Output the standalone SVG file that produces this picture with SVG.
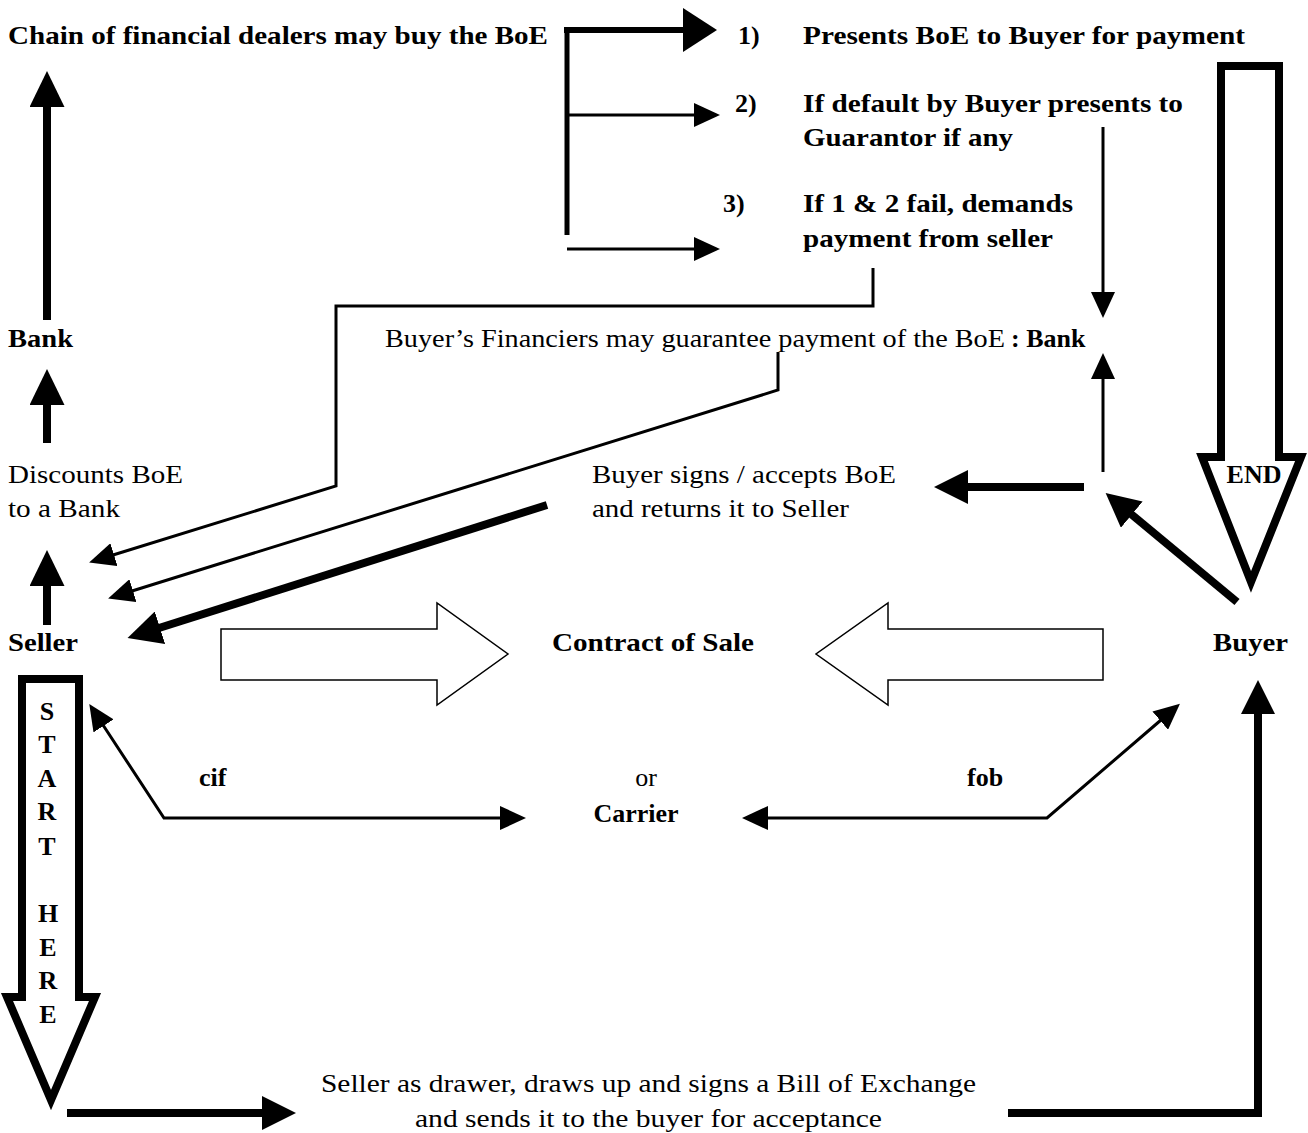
<svg xmlns="http://www.w3.org/2000/svg" width="1308" height="1133" viewBox="0 0 1308 1133">
<style>
text{font-family:"Liberation Serif","Times New Roman",serif;fill:#000;font-size:26px}
.b{font-weight:bold}
.bot{font-size:25px}
.c{fill:none;stroke:#000;stroke-linejoin:miter}
.t3{stroke-width:3}
.t5{stroke-width:5}
.t6{stroke-width:6}
.t8{stroke-width:8}
.blk{fill:#fff;stroke:#000;stroke-width:1.5}
.big{fill:#fff;stroke:#000;stroke-width:8}
</style>
<defs>
<marker id="hXL" viewBox="0 0 34 44" refX="1" refY="22" markerWidth="34" markerHeight="44" markerUnits="userSpaceOnUse" orient="auto"><path d="M0,0 L34,22 L0,44 z"/></marker>
<marker id="hL" viewBox="0 0 34 34" refX="1" refY="17" markerWidth="34" markerHeight="34" markerUnits="userSpaceOnUse" orient="auto"><path d="M0,0 L34,17 L0,34 z"/></marker>
<marker id="hV" viewBox="0 0 36 35" refX="1" refY="17.5" markerWidth="36" markerHeight="35" markerUnits="userSpaceOnUse" orient="auto"><path d="M0,0 L36,17.5 L0,35 z"/></marker>
<marker id="hS" viewBox="0 0 26 24" refX="1" refY="12" markerWidth="26" markerHeight="24" markerUnits="userSpaceOnUse" orient="auto"><path d="M0,0 L26,12 L0,24 z"/></marker>
<marker id="hS2" viewBox="0 0 26 24" refX="1" refY="12" markerWidth="26" markerHeight="24" markerUnits="userSpaceOnUse" orient="auto-start-reverse"><path d="M0,0 L26,12 L0,24 z"/></marker>
</defs>

<g id="block-arrows">
<polygon id="start-arrow" class="big" points="22,679 79,679 79,997 95,997 51,1100 7,997 22,997"/>
<polygon id="end-arrow" class="big" points="1221,66 1279,66 1279,457 1301,457 1251,582 1202,457 1221,457"/>
<polygon id="contract-left" class="blk" points="221,629 437,629 437,603 508,654 437,705 437,680 221,680"/>
<polygon id="contract-right" class="blk" points="1103,629 888,629 888,603 816,654 888,705 888,680 1103,680"/>
</g>

<g id="connectors">
<path class="c t6" d="M564,30 L684,30" marker-end="url(#hXL)"/>
<path class="c t5" d="M567,28 L567,235"/>
<path class="c t3" d="M567,115 L695,115" marker-end="url(#hS)"/>
<path class="c t3" d="M567,249 L695,249" marker-end="url(#hS)"/>
<path class="c t3" d="M1103,127 L1103,293" marker-end="url(#hS)"/>
<path class="c t3" d="M1103,472 L1103,378" marker-end="url(#hS)"/>
<path class="c t3" d="M873,268 L873,306 L336,306 L336,486 L113,555" marker-end="url(#hS)"/>
<path class="c t3" d="M778,352 L778,390 L132,591" marker-end="url(#hS)"/>
<path class="c t8" d="M547,505 L159,628" marker-end="url(#hL)"/>
<path class="c t8" d="M1084,487 L967,487" marker-end="url(#hL)"/>
<path class="c t8" d="M1237,602 L1131,514" marker-end="url(#hL)"/>
<path class="c t3" d="M501,818 L164,818 L103,725" marker-start="url(#hS2)" marker-end="url(#hS2)"/>
<path class="c t3" d="M767,818 L1047,818 L1161,720" marker-start="url(#hS2)" marker-end="url(#hS2)"/>
<path class="c t8" d="M47,320 L47,106" marker-end="url(#hV)"/>
<path class="c t8" d="M47,443 L47,404" marker-end="url(#hV)"/>
<path class="c t8" d="M47,625 L47,585" marker-end="url(#hV)"/>
<path class="c t8" d="M67,1113 L263,1113" marker-end="url(#hL)"/>
<path class="c t8" d="M1008,1113 L1258,1113 L1258,713" marker-end="url(#hL)"/>
</g>

<g id="node-chain"><text class="b" x="8" y="44" textLength="540" lengthAdjust="spacingAndGlyphs">Chain of financial dealers may buy the BoE</text></g>
<g id="node-step1"><text class="b" x="738" y="44">1)</text><text class="b" x="803" y="44" textLength="442" lengthAdjust="spacingAndGlyphs">Presents BoE to Buyer for payment</text></g>
<g id="node-step2"><text class="b" x="735" y="112">2)</text><text class="b" x="803" y="112" textLength="380" lengthAdjust="spacingAndGlyphs">If default by Buyer presents to</text><text class="b" x="803" y="146" textLength="210" lengthAdjust="spacingAndGlyphs">Guarantor if any</text></g>
<g id="node-step3"><text class="b" x="723" y="212">3)</text><text class="b" x="803" y="212" textLength="270" lengthAdjust="spacingAndGlyphs">If 1 &amp; 2 fail, demands</text><text class="b" x="803" y="247" textLength="250" lengthAdjust="spacingAndGlyphs">payment from seller</text></g>
<g id="node-guarantee"><text x="385" y="347" textLength="620" lengthAdjust="spacingAndGlyphs">Buyer’s Financiers may guarantee payment of the BoE</text><text class="b" x="1011" y="347">: Bank</text></g>
<g id="node-bank"><text class="b" x="8" y="347" textLength="65" lengthAdjust="spacingAndGlyphs">Bank</text></g>
<g id="node-discounts"><text x="8" y="483" textLength="175" lengthAdjust="spacingAndGlyphs">Discounts BoE</text><text x="8" y="517" textLength="112" lengthAdjust="spacingAndGlyphs">to a Bank</text></g>
<g id="node-accepts"><text x="592" y="483" textLength="304" lengthAdjust="spacingAndGlyphs">Buyer signs / accepts BoE</text><text x="592" y="517" textLength="257" lengthAdjust="spacingAndGlyphs">and returns it to Seller</text></g>
<g id="node-end"><text class="b" x="1254" y="483" text-anchor="middle" font-size="21">END</text></g>
<g id="node-seller"><text class="b" x="8" y="651" textLength="70" lengthAdjust="spacingAndGlyphs">Seller</text></g>
<g id="node-contract"><text class="b" x="552" y="651" textLength="202" lengthAdjust="spacingAndGlyphs">Contract of Sale</text></g>
<g id="node-buyer"><text class="b" x="1213" y="651" textLength="75" lengthAdjust="spacingAndGlyphs">Buyer</text></g>
<g id="node-cif"><text class="b" x="199" y="786">cif</text></g>
<g id="node-fob"><text class="b" x="967" y="786">fob</text></g>
<g id="node-carrier"><text x="646" y="786" text-anchor="middle">or</text><text class="b" x="636" y="822" text-anchor="middle">Carrier</text></g>
<g id="node-start">
<text class="b" x="47" y="720" text-anchor="middle" font-size="22">S</text>
<text class="b" x="47" y="753" text-anchor="middle" font-size="22">T</text>
<text class="b" x="47" y="787" text-anchor="middle" font-size="22">A</text>
<text class="b" x="47" y="820" text-anchor="middle" font-size="22">R</text>
<text class="b" x="47" y="855" text-anchor="middle" font-size="22">T</text>
<text class="b" x="48" y="922" text-anchor="middle" font-size="22">H</text>
<text class="b" x="48" y="956" text-anchor="middle" font-size="22">E</text>
<text class="b" x="48" y="989" text-anchor="middle" font-size="22">R</text>
<text class="b" x="48" y="1023" text-anchor="middle" font-size="22">E</text>
</g>
<g id="node-drawer"><text class="bot" x="321" y="1092" textLength="655" lengthAdjust="spacingAndGlyphs">Seller as drawer, draws up and signs a Bill of Exchange</text><text class="bot" x="415" y="1127" textLength="467" lengthAdjust="spacingAndGlyphs">and sends it to the buyer for acceptance</text></g>
</svg>
